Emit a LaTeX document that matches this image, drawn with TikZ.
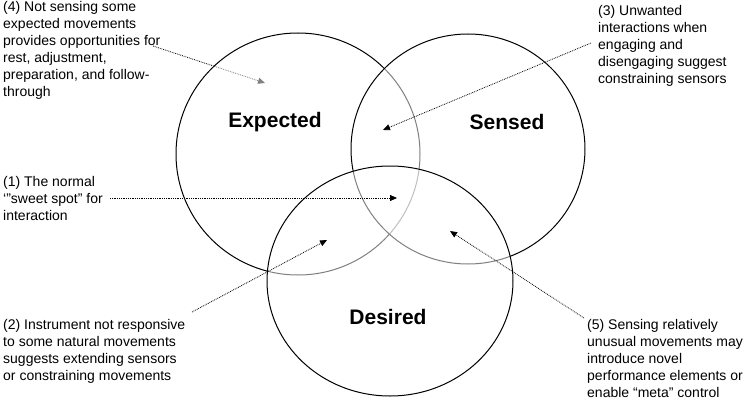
\documentclass[tikz,border=0pt]{standalone}
\usepackage{fontspec}
\setmainfont{Liberation Sans}
\usetikzlibrary{arrows.meta}

\begin{document}
\begin{tikzpicture}[x=1pt, y=-1pt, note/.style={align=left, anchor=north west, inner sep=0pt, font=\fontsize{14}{17}\selectfont}, setname/.style={font=\bfseries\fontsize{21}{25}\selectfont}, ring/.style={draw, line width=1pt, fill=white, fill opacity=0.5}, arrow/.style={-{Triangle[length=7pt,width=6pt]}, densely dotted, line width=0.8pt}]
\useasboundingbox (0,0) rectangle (750,404);
\node[note](n4) at (3,1){(4) Not sensing some\\expected movements\\provides opportunities for\\rest, adjustment,\\preparation, and follow-\\through};
\node[note](n3) at (598,5){(3) Unwanted\\interactions when\\engaging and\\disengaging suggest\\constraining sensors};
\node[note](n1) at (3,176){(1) The normal\\‘"sweet spot" for\\interaction};
\node[note](n2) at (3,319){(2) Instrument not responsive\\to some natural movements\\suggests extending sensors\\or constraining movements};
\node[note](n5) at (587,319){(5) Sensing relatively\\unusual movements may\\introduce novel\\performance elements or\\enable “meta” control};
\coordinate (t4) at (153,46);
\coordinate (h4) at (265,83);
\coordinate (t3) at (591,43);
\coordinate (h3) at (383,130);
\coordinate (t1) at (110,198);
\coordinate (h1) at (397,198);
\coordinate (t2) at (192,312);
\coordinate (h2) at (327,240);
\coordinate (t5) at (584,318);
\coordinate (h5) at (450,231);
% (4) sits under the sets
\draw[arrow] (t4)--(h4);
\draw[ring] (298,154) ellipse [x radius=122, y radius=121];
\draw[ring] (468,149) ellipse [x radius=117, y radius=115];
\draw[ring] (390,281) ellipse [x radius=123, y radius=115];
\node[setname](exp) at (275,122){Expected};
\node[setname](sen) at (507,122){Sensed};
\node[setname](des) at (388,317){Desired};
\draw[arrow] (t3)--(h3);
\draw[arrow] (t1)--(h1);
\draw[arrow] (t2)--(h2);
\draw[arrow] (t5)--(h5);
\end{tikzpicture}
\end{document}
